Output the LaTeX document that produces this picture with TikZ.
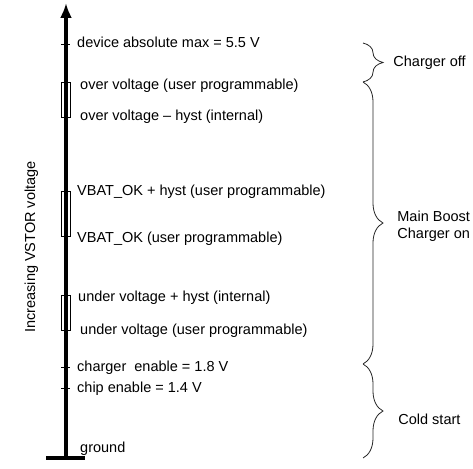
\documentclass[tikz,border=0pt]{standalone}
\usepackage{fontspec}
\setmainfont{Liberation Sans}
\usetikzlibrary{positioning, arrows.meta, decorations.pathreplacing}

\begin{document}
\begin{tikzpicture}[
            x=1pt, y=-1pt,
            font=\fontsize{14.5}{17.5}\selectfont,
            level/.style={anchor=west, inner sep=0pt, text height=11pt, text depth=3pt},
            hystbox/.style={draw, line width=0.9pt, minimum width=9pt, inner sep=0pt},
            tickmark/.style={line width=0.9pt},
            axis/.style={line width=4pt, -{Latex[length=15pt, width=12pt]}},
            bracket/.style={draw=black!85, line width=0.8pt, decorate, decoration={brace, amplitude=20pt}},
            side/.style={anchor=west, align=left, inner sep=0pt}
        ]
            \useasboundingbox (0,0) rectangle (473,468);

            % axis and ground
            \coordinate (gnd) at (66,458);
            \coordinate (top) at (66,3);
            \coordinate (gl) at (46,458);
            \coordinate (gr) at (85,458);
            \draw[line width=4pt] (gl) -- (gr);
            \draw[axis] (gnd) -- (top);
            \node[rotate=90] (vlabel) at (31.5,247) {Increasing VSTOR voltage};

            % ticks and hysteresis boxes
            \draw[tickmark] (61,44) -- (70,44);
            \draw[tickmark] (61,367) -- (70,367);
            \draw[tickmark] (61,388) -- (70,388);
            \node[hystbox, minimum height=35pt] (ovbox) at (65.5,99.5) {};
            \node[hystbox, minimum height=45pt] (okbox) at (65.5,213.5) {};
            \node[hystbox, minimum height=35pt] (uvbox) at (65.5,312.5) {};

            % levels
            \node[level] (absmax) at (77,44) {device absolute max = 5.5 V};
            \node[level] (ovp) at (80,85) {over voltage (user programmable)};
            \node[level] (ovh) at (80,117) {over voltage – hyst (internal)};
            \node[level] (okh) at (77,191) {VBAT\_OK + hyst (user programmable)};
            \node[level] (ok) at (77,238) {VBAT\_OK (user programmable)};
            \node[level] (uvh) at (78,297) {under voltage + hyst (internal)};
            \node[level] (uv) at (80,330) {under voltage (user programmable)};
            \node[level] (chg) at (77,367) {charger\ \ enable = 1.8 V};
            \node[level] (chip) at (77,388) {chip enable = 1.4 V};
            \node[level] (ground) at (80,448) {ground};

            % operating ranges
            \coordinate (offtop) at (363,43);
            \coordinate (offbot) at (363,82);
            \coordinate (coldtop) at (363,364);
            \coordinate (coldbot) at (363,458);
            \draw[bracket] (offtop) -- (offbot) node[midway, side, right=30pt] (off) {Charger off};
            \draw[bracket] (offbot) -- (coldtop) node[midway, side, right=34pt, yshift=-3pt] (boost) {Main Boost\\Charger on};
            \draw[bracket] (coldtop) -- (coldbot) node[midway, side, right=35pt, yshift=-8pt] (cold) {Cold start};
        \end{tikzpicture}
\end{document}
